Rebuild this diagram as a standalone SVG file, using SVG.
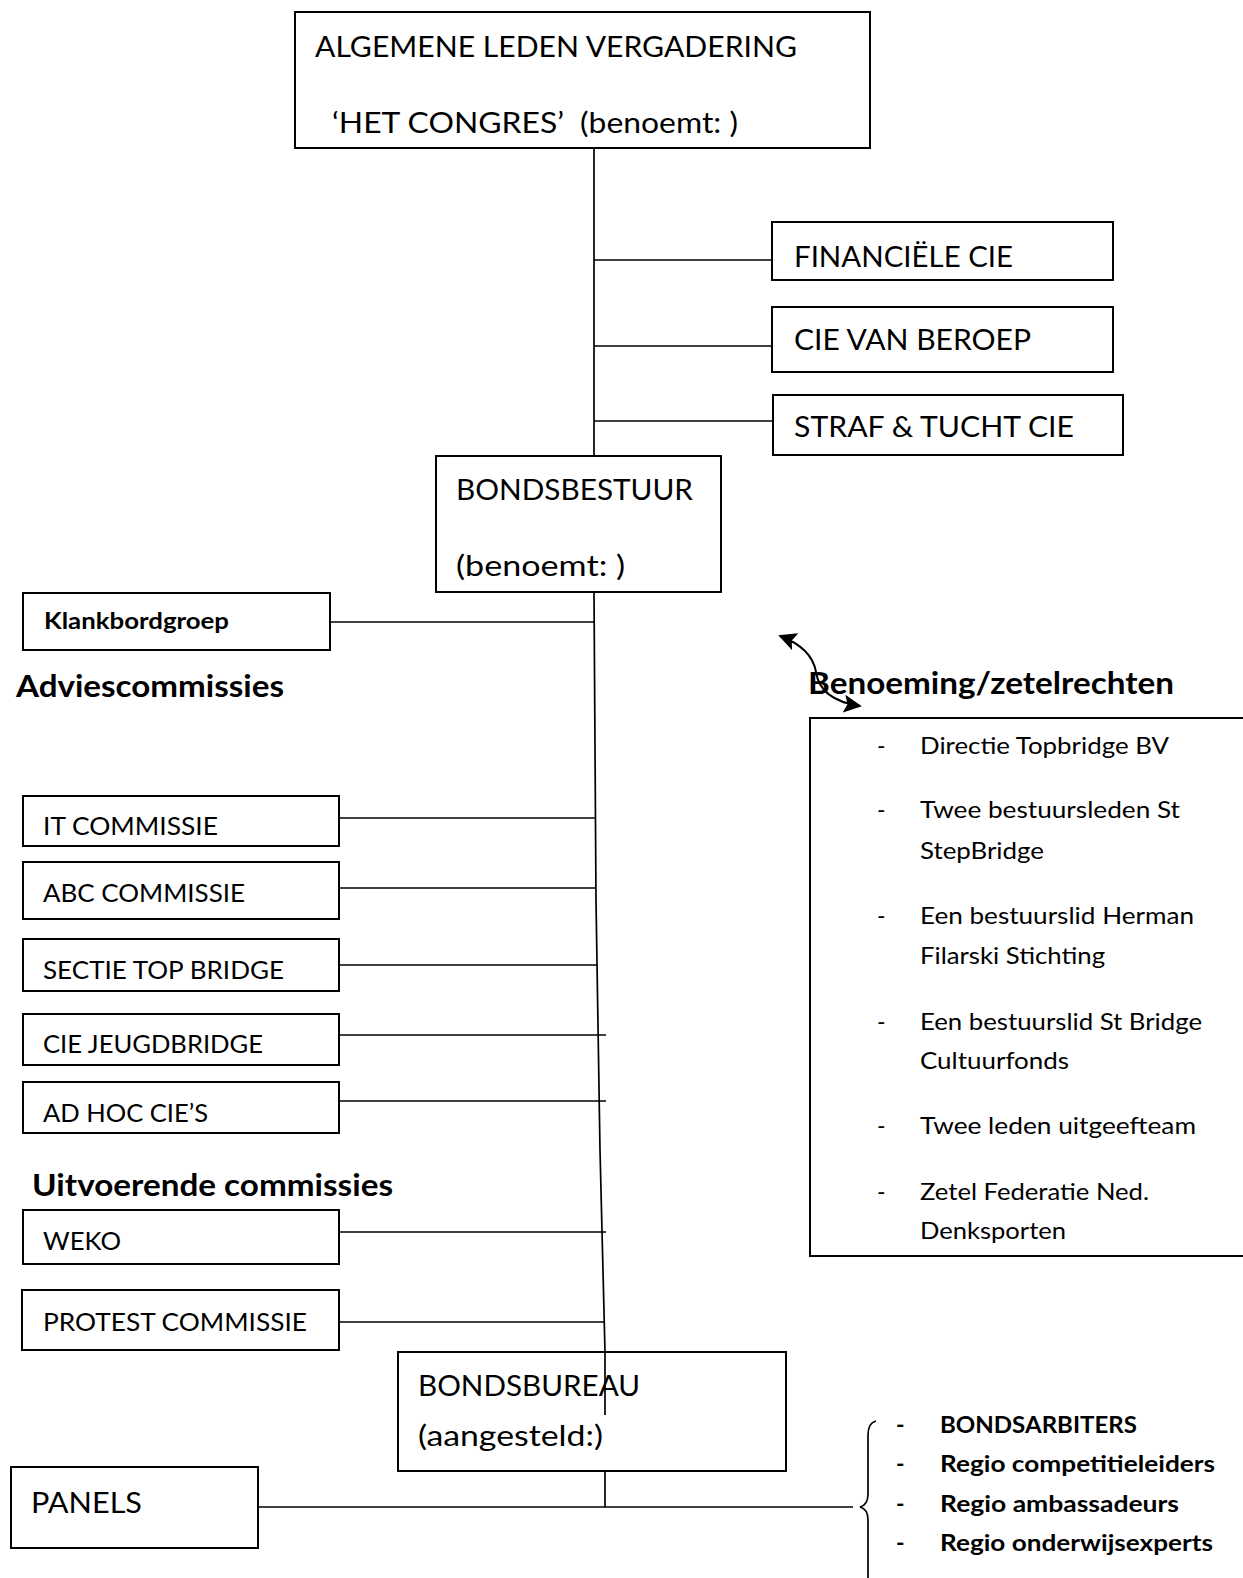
<svg xmlns="http://www.w3.org/2000/svg" width="1243" height="1578" viewBox="0 0 1243 1578">
<style>
  .box{fill:#fff;stroke:#000;stroke-width:2}
  .ln{fill:none;stroke:#000;stroke-width:1.7}
  .t{font-family:Lato,"Open Sans","Liberation Sans",sans-serif;font-size:29px;fill:#000}
  .tm{font-family:Lato,"Open Sans","Liberation Sans",sans-serif;font-size:25px;fill:#000}
  .tl{font-family:Lato,"Open Sans","Liberation Sans",sans-serif;font-size:23px;fill:#000}
  .b{font-family:Lato,"Open Sans","Liberation Sans",sans-serif;font-weight:bold;fill:#000}
</style>
<defs>
  <marker id="ah" viewBox="0 0 10 10" refX="9" refY="5" markerWidth="9" markerHeight="9" markerUnits="strokeWidth" orient="auto-start-reverse">
    <path d="M0,0 L10,5 L0,10 L2,5 z" fill="#000"/>
  </marker>
</defs>
<rect width="1243" height="1578" fill="#fff"/>

<g id="connectors">
  <line class="ln" x1="594" y1="148" x2="594" y2="456"/>
  <line class="ln" x1="594" y1="260" x2="772" y2="260"/>
  <line class="ln" x1="594" y1="346" x2="772" y2="346"/>
  <line class="ln" x1="594" y1="421" x2="773" y2="421"/>
  <polyline class="ln" points="594,592 596,900 600,1150 605,1352"/>
  <line class="ln" x1="605" y1="1352" x2="605" y2="1415"/>
  <line class="ln" x1="605" y1="1471" x2="605" y2="1507"/>
  <line class="ln" x1="330" y1="622" x2="594" y2="622"/>
  <line class="ln" x1="339" y1="818" x2="596" y2="818"/>
  <line class="ln" x1="339" y1="888" x2="596" y2="888"/>
  <line class="ln" x1="339" y1="965" x2="597" y2="965"/>
  <line class="ln" x1="339" y1="1035" x2="606" y2="1035"/>
  <line class="ln" x1="339" y1="1101" x2="606" y2="1101"/>
  <line class="ln" x1="339" y1="1232" x2="606" y2="1232"/>
  <line class="ln" x1="339" y1="1322" x2="604" y2="1322"/>
  <line class="ln" x1="258" y1="1507" x2="853" y2="1507"/>
  <path class="ln" d="M876,1421 Q868,1423 868,1435 L868,1494 Q868,1505 860,1507 Q868,1509 868,1520 L868,1578"/>
  <path d="M780,636 Q812,648 816,672 Q820,700 860,706" fill="none" stroke="#000" stroke-width="2" marker-start="url(#ah)" marker-end="url(#ah)"/>
</g>

<g id="alv">
  <rect class="box" x="295" y="12" width="575" height="136"/>
  <text class="t" x="315" y="57" textLength="482" lengthAdjust="spacingAndGlyphs">ALGEMENE LEDEN VERGADERING</text>
  <text class="t" x="332" y="133" textLength="406" lengthAdjust="spacingAndGlyphs" xml:space="preserve">‘HET CONGRES’  (benoemt: )</text>
</g>
<g id="fin">
  <rect class="box" x="772" y="222" width="341" height="58"/>
  <text class="t" x="794" y="267" textLength="219" lengthAdjust="spacingAndGlyphs">FINANCIËLE CIE</text>
</g>
<g id="beroep">
  <rect class="box" x="772" y="307" width="341" height="65"/>
  <text class="t" x="794" y="350" textLength="237" lengthAdjust="spacingAndGlyphs">CIE VAN BEROEP</text>
</g>
<g id="straf">
  <rect class="box" x="773" y="395" width="350" height="60"/>
  <text class="t" x="794" y="437" textLength="280" lengthAdjust="spacingAndGlyphs">STRAF &amp; TUCHT CIE</text>
</g>
<g id="bondsbestuur">
  <rect class="box" x="436" y="456" width="285" height="136"/>
  <text class="t" x="456" y="500" textLength="237" lengthAdjust="spacingAndGlyphs">BONDSBESTUUR</text>
  <text class="t" x="456" y="576" textLength="169" lengthAdjust="spacingAndGlyphs">(benoemt: )</text>
</g>
<g id="klankbord">
  <rect class="box" x="23" y="593" width="307" height="57"/>
  <text class="b" font-size="22" x="44" y="629" textLength="185" lengthAdjust="spacingAndGlyphs">Klankbordgroep</text>
</g>
<text class="b" font-size="30" x="16" y="697" textLength="268" lengthAdjust="spacingAndGlyphs">Adviescommissies</text>
<g id="it">
  <rect class="box" x="23" y="796" width="316" height="50"/>
  <text class="tm" x="43" y="835" textLength="175" lengthAdjust="spacingAndGlyphs">IT COMMISSIE</text>
</g>
<g id="abc">
  <rect class="box" x="23" y="862" width="316" height="57"/>
  <text class="tm" x="43" y="902" textLength="202" lengthAdjust="spacingAndGlyphs">ABC COMMISSIE</text>
</g>
<g id="sectie">
  <rect class="box" x="23" y="939" width="316" height="52"/>
  <text class="tm" x="43" y="979" textLength="241" lengthAdjust="spacingAndGlyphs">SECTIE TOP BRIDGE</text>
</g>
<g id="jeugd">
  <rect class="box" x="23" y="1014" width="316" height="51"/>
  <text class="tm" x="43" y="1053" textLength="220" lengthAdjust="spacingAndGlyphs">CIE JEUGDBRIDGE</text>
</g>
<g id="adhoc">
  <rect class="box" x="23" y="1082" width="316" height="51"/>
  <text class="tm" x="43" y="1122" textLength="165" lengthAdjust="spacingAndGlyphs">AD HOC CIE’S</text>
</g>
<text class="b" font-size="30" x="32" y="1196" textLength="361" lengthAdjust="spacingAndGlyphs">Uitvoerende commissies</text>
<g id="weko">
  <rect class="box" x="23" y="1210" width="316" height="54"/>
  <text class="tm" x="43" y="1250" textLength="78" lengthAdjust="spacingAndGlyphs">WEKO</text>
</g>
<g id="protest">
  <rect class="box" x="22" y="1290" width="317" height="60"/>
  <text class="tm" x="43" y="1331" textLength="264" lengthAdjust="spacingAndGlyphs">PROTEST COMMISSIE</text>
</g>
<g id="bondsbureau">
  <rect class="box" x="398" y="1352" width="388" height="119" style="fill:none"/>
  <text class="t" x="418" y="1396" textLength="222" lengthAdjust="spacingAndGlyphs">BONDSBUREAU</text>
  <text class="t" x="418" y="1446" textLength="185" lengthAdjust="spacingAndGlyphs">(aangesteld:)</text>
</g>
<g id="panels">
  <rect class="box" x="11" y="1467" width="247" height="81"/>
  <text class="t" x="31" y="1513" textLength="111" lengthAdjust="spacingAndGlyphs">PANELS</text>
</g>
<g id="regio">
  <text class="b" font-size="23" x="896" y="1433">-</text>
  <text class="b" font-size="23" x="896" y="1472">-</text>
  <text class="b" font-size="23" x="896" y="1512">-</text>
  <text class="b" font-size="23" x="896" y="1551">-</text>
  <text class="b" font-size="23" x="940" y="1433" textLength="197" lengthAdjust="spacingAndGlyphs">BONDSARBITERS</text>
  <text class="b" font-size="23" x="940" y="1472" textLength="275" lengthAdjust="spacingAndGlyphs">Regio competitieleiders</text>
  <text class="b" font-size="23" x="940" y="1512" textLength="239" lengthAdjust="spacingAndGlyphs">Regio ambassadeurs</text>
  <text class="b" font-size="23" x="940" y="1551" textLength="273" lengthAdjust="spacingAndGlyphs">Regio onderwijsexperts</text>
</g>
<g id="benoeming">
  <text class="b" font-size="30" x="808" y="694" textLength="366" lengthAdjust="spacingAndGlyphs">Benoeming/zetelrechten</text>
  <polyline class="ln" style="stroke-width:2" points="1243,718 810,718 810,1256 1243,1256"/>
  <text class="tl" x="877" y="754">-</text>
  <text class="tl" x="920" y="754" textLength="249" lengthAdjust="spacingAndGlyphs">Directie Topbridge BV</text>
  <text class="tl" x="877" y="818">-</text>
  <text class="tl" x="920" y="818" textLength="260" lengthAdjust="spacingAndGlyphs">Twee bestuursleden St</text>
  <text class="tl" x="920" y="859" textLength="124" lengthAdjust="spacingAndGlyphs">StepBridge</text>
  <text class="tl" x="877" y="924">-</text>
  <text class="tl" x="920" y="924" textLength="274" lengthAdjust="spacingAndGlyphs">Een bestuurslid Herman</text>
  <text class="tl" x="920" y="964" textLength="185" lengthAdjust="spacingAndGlyphs">Filarski Stichting</text>
  <text class="tl" x="877" y="1030">-</text>
  <text class="tl" x="920" y="1030" textLength="282" lengthAdjust="spacingAndGlyphs">Een bestuurslid St Bridge</text>
  <text class="tl" x="920" y="1069" textLength="149" lengthAdjust="spacingAndGlyphs">Cultuurfonds</text>
  <text class="tl" x="877" y="1134">-</text>
  <text class="tl" x="920" y="1134" textLength="276" lengthAdjust="spacingAndGlyphs">Twee leden uitgeefteam</text>
  <text class="tl" x="877" y="1200">-</text>
  <text class="tl" x="920" y="1200" textLength="229" lengthAdjust="spacingAndGlyphs">Zetel Federatie Ned.</text>
  <text class="tl" x="920" y="1239" textLength="146" lengthAdjust="spacingAndGlyphs">Denksporten</text>
</g>
</svg>
